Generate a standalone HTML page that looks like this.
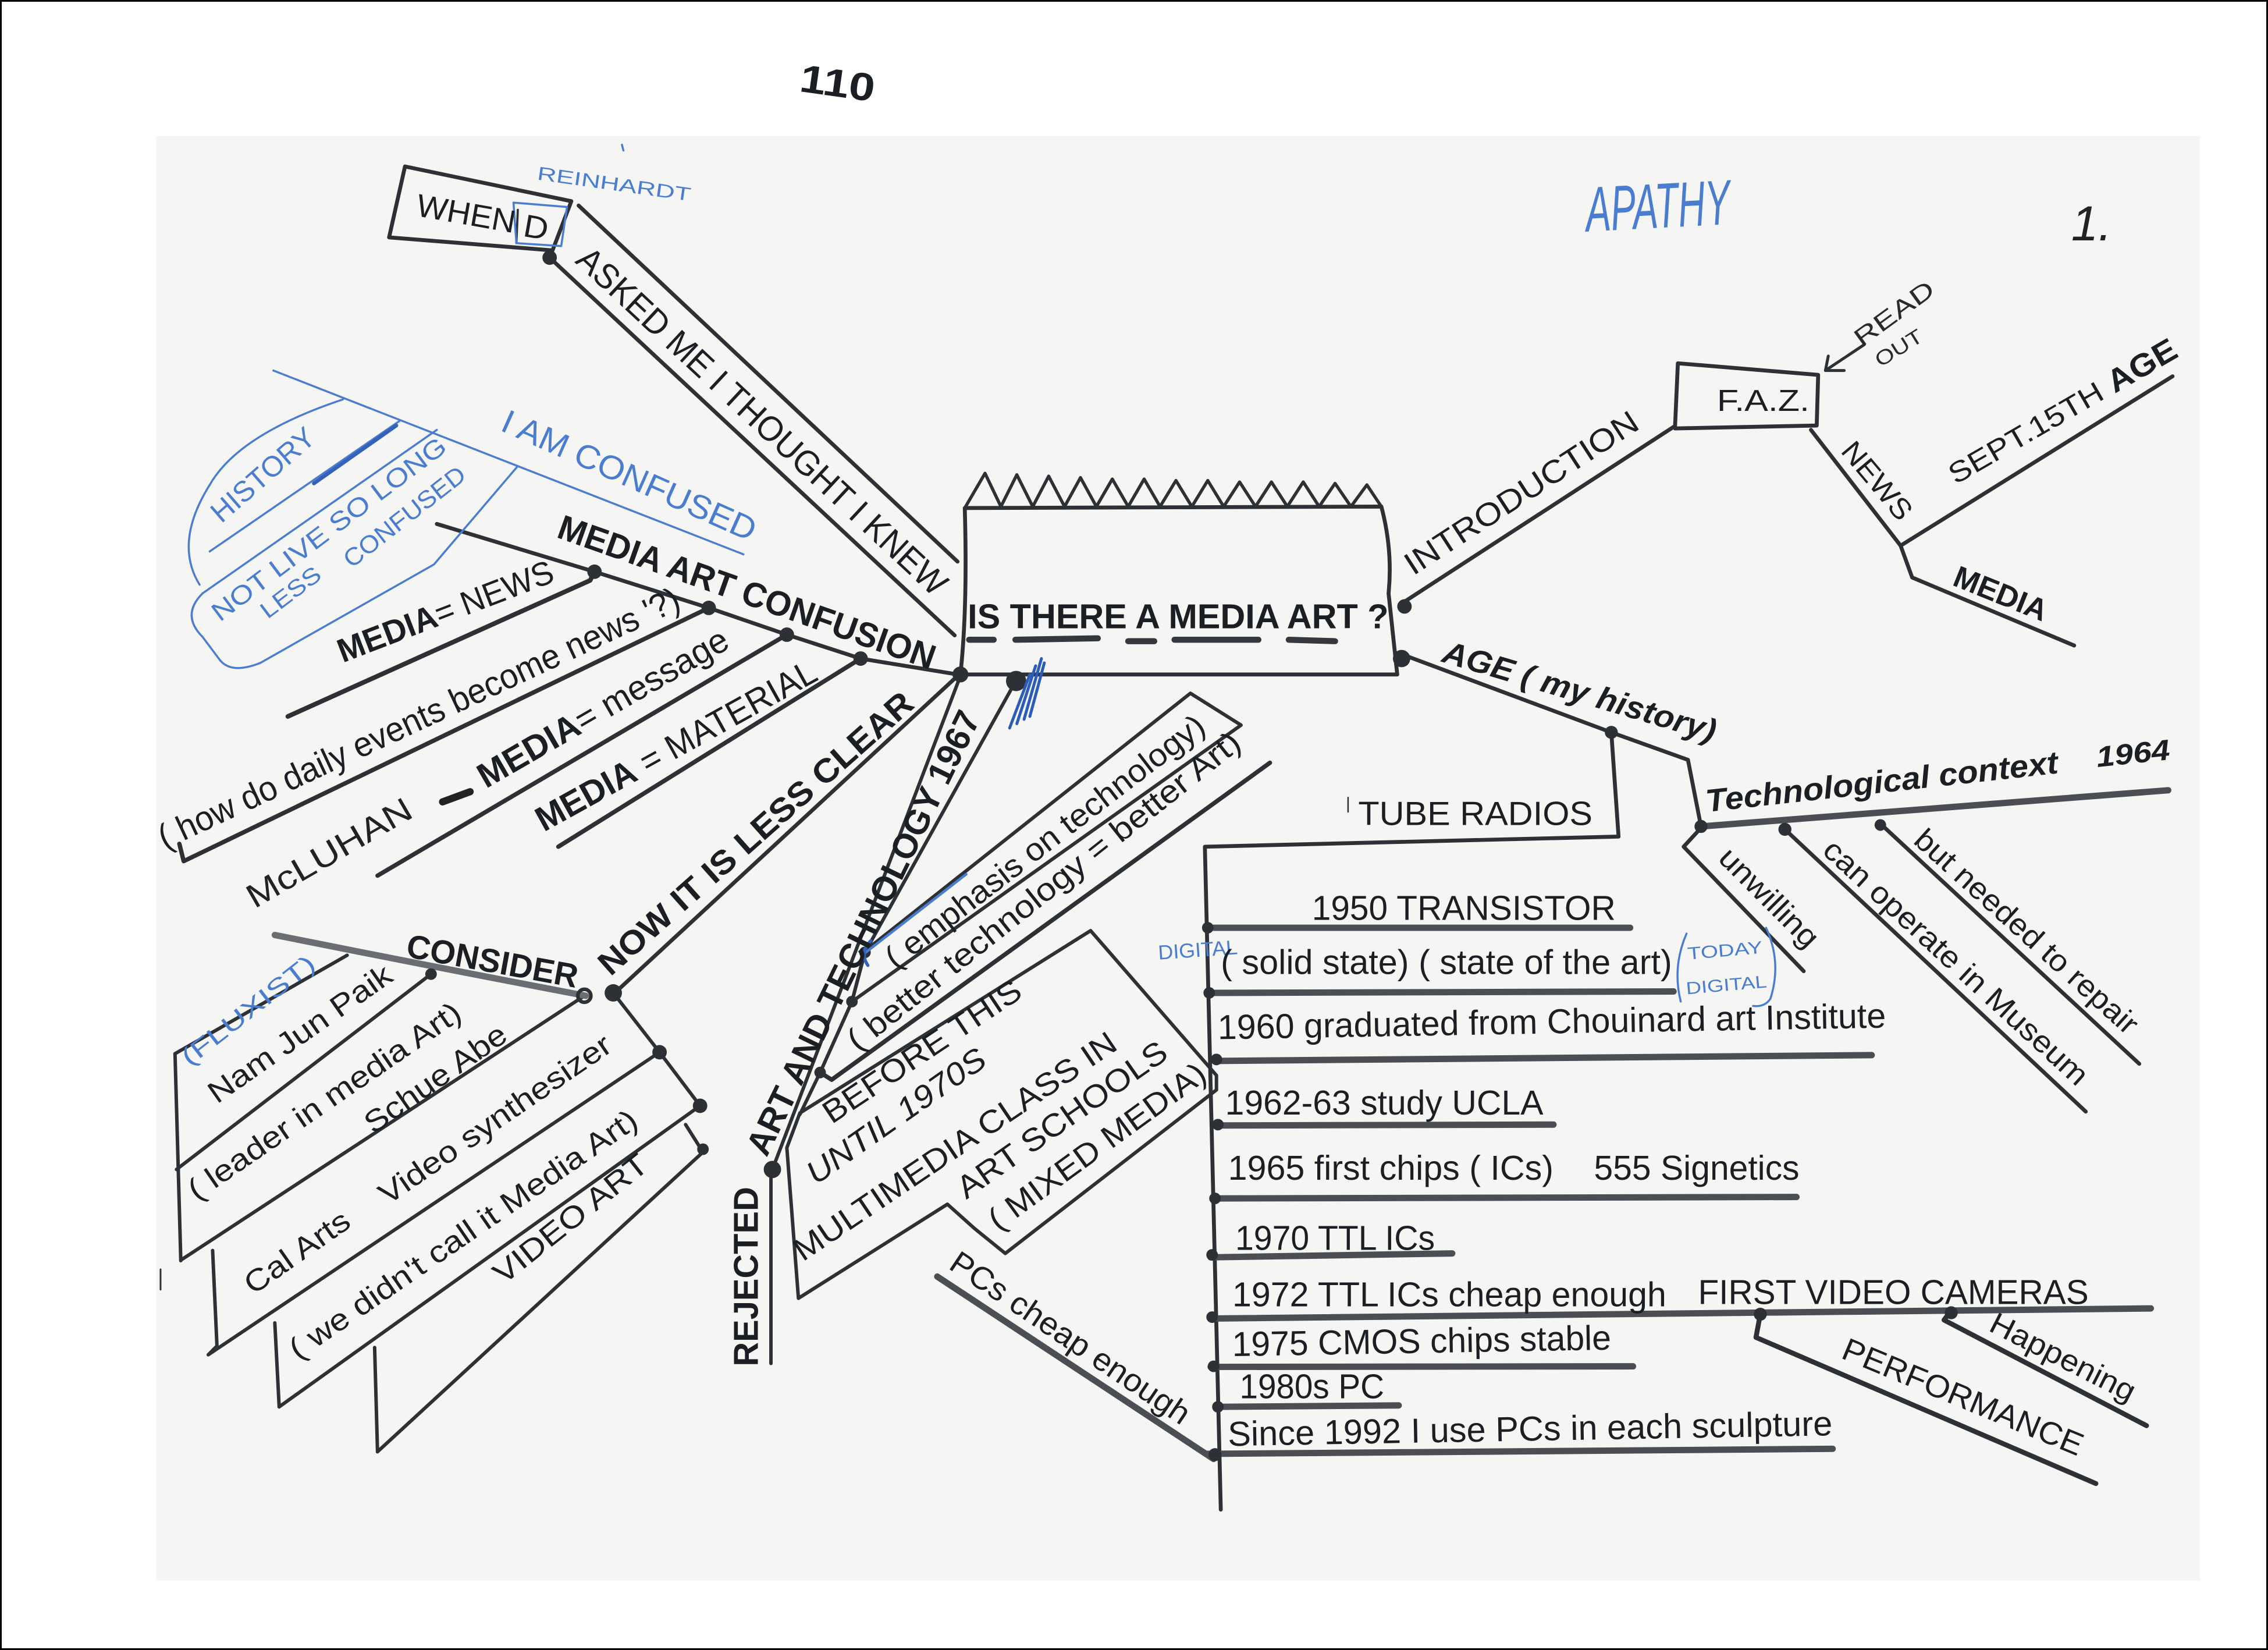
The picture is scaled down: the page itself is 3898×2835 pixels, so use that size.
<!DOCTYPE html>
<html><head><meta charset="utf-8"><style>html,body{margin:0;padding:0;background:#fff}svg{display:block}</style></head><body>
<svg xmlns="http://www.w3.org/2000/svg" width="3898" height="2835" viewBox="0 0 1568 1140" preserveAspectRatio="none">
<rect width="1568" height="1140" fill="#fff"/>
<rect x="108" y="94" width="1413" height="998" fill="#f5f5f3"/>
<rect x="0.6" y="0.6" width="1566.8" height="1138.8" fill="none" stroke="#000" stroke-width="1.2"/>

<g font-family="'Liberation Sans', Arial, sans-serif" fill="#1b1e23">
<text transform="translate(552 63) rotate(8)" font-size="27" font-weight="bold" textLength="52" lengthAdjust="spacingAndGlyphs">110</text>
</g>

<!-- ink lines -->
<g fill="none" stroke="#2d3136" stroke-width="2.7" stroke-linecap="round" stroke-linejoin="round">
<polygon points="280,115 395,139 382,173 269,164"/>
<line x1="358" y1="145" x2="357" y2="168" stroke-width="1.5"/>
<line x1="400" y1="142" x2="662" y2="388"/>
<line x1="380" y1="178" x2="660" y2="439"/>
<path d="M667,351 L955,350 Q963,380 960,410 L966,466 L664,466 Q669,420 667,351 Z"/>
<path d="M667,351 L681,327 L692,350 L703,328 L714,350 L725,329 L736,350 L747,330 L758,350 L769,331 L780,350 L791,331 L802,350 L813,332 L824,350 L835,332 L846,350 L857,333 L868,350 L879,333 L890,350 L901,333 L912,350 L923,334 L934,350 L945,335 L955,350" stroke-width="2.2"/>
<line x1="969" y1="417" x2="1157" y2="295"/>
<polygon points="1160,251 1257,259 1256,294 1158,296"/>
<path d="M1289,238 L1262,256 M1264,246 L1262,256 L1275,256" stroke-width="2"/>
<path d="M1252,297 L1314,377 L1502,260"/>
<path d="M1314,377 L1322,399 L1434,446"/>
<path d="M969,452 L1114,506 L1167,525 L1176,571"/>
<path d="M1114,506 L1119,578 L833,585 L844,1043"/>
<line x1="932" y1="551" x2="932" y2="561" stroke-width="1"/>
<path d="M1176,572 L1164,585 L1247,671"/>
<line x1="1234" y1="573" x2="1442" y2="768"/>
<line x1="1301" y1="570" x2="1479" y2="735"/>
<path d="M302,362 L411,395 L490,420 L544,438.5 L595,455 L662,466"/>
<path d="M411,395 L408,401 L199,495" stroke-width="3.2"/>
<path d="M490,420 L127,595 L124,583" stroke-width="3"/>
<line x1="544" y1="438.5" x2="261" y2="605" stroke-width="3"/>
<line x1="595" y1="455" x2="386" y2="585" stroke-width="3"/>
<line x1="424" y1="687" x2="662" y2="467"/>
<g stroke-width="2.4">
<line x1="240" y1="660" x2="121" y2="728"/>
<line x1="298" y1="673" x2="122" y2="808"/>
<line x1="121" y1="728" x2="125" y2="871"/>
<line x1="404" y1="688" x2="126" y2="870"/>
<path d="M147,864 L150,930 L144,936"/>
<line x1="456" y1="727" x2="144" y2="936"/>
<line x1="190" y1="914" x2="193" y2="972"/>
<line x1="484" y1="764" x2="193" y2="972"/>
<line x1="259" y1="931" x2="261" y2="1003"/>
<line x1="486" y1="796" x2="261" y2="1003"/>
<path d="M424,686 L456,727 L484,764"/>
<line x1="474" y1="777" x2="486" y2="796"/>
<line x1="111" y1="877" x2="111" y2="891" stroke-width="1.2"/>
</g>
<line x1="664" y1="467" x2="534" y2="808" stroke-width="2.4"/>
<path d="M702,471 L598,658 L589,692 L567,741 L553,770" stroke-width="2.4"/>
<line x1="533" y1="812" x2="533" y2="942" stroke-width="2.4"/>
<polygon points="598,657 823,479 858,501 589,692" stroke-width="2.4"/>
<path d="M878,527 L575,746 L567,741" stroke-width="3"/>
<path d="M553,769 L754,643 L841,743 L841,753 L695,866 L674,849 L655,832 L552,897 L544,793 L553,769" stroke-width="2.4"/>
<path d="M1217,908 L1214,924 L1449,1025" stroke-width="3.4"/>
<path d="M1347,908 L1344,912 L1484,985" stroke-width="3.4"/>
</g>

<g fill="none" stroke="#4b4e53" stroke-width="4.4" stroke-linecap="round">
<line x1="834" y1="641" x2="1127" y2="641"/>
<line x1="837" y1="686" x2="1157" y2="685"/>
<line x1="842" y1="733" x2="1294" y2="729"/>
<line x1="842" y1="777.6" x2="1074" y2="777"/>
<line x1="839" y1="828" x2="1242" y2="827"/>
<line x1="837" y1="868.7" x2="1004" y2="866"/>
<line x1="837" y1="911" x2="1487" y2="904"/>
<line x1="837" y1="944.4" x2="1129" y2="944"/>
<line x1="842" y1="972" x2="967" y2="971"/>
<line x1="834" y1="1004.5" x2="1267" y2="1001"/>
<line x1="1176" y1="571" x2="1499" y2="546"/>
<line x1="648" y1="882" x2="839" y2="1008"/>
<path d="M190,646 Q300,668 405,688" stroke="#6a6d71"/>
</g>

<g stroke="#34373c" stroke-width="4.2" stroke-linecap="round">
<line x1="670" y1="442" x2="687" y2="442"/>
<line x1="702" y1="442" x2="759" y2="441"/>
<line x1="780" y1="443" x2="798" y2="443"/>
<line x1="812" y1="442" x2="870" y2="442"/>
<line x1="891" y1="442" x2="923" y2="443"/>
</g>

<g fill="#2d3136">
<circle cx="380" cy="178" r="5"/>
<circle cx="664" cy="466" r="5.5"/>
<circle cx="702.5" cy="470.5" r="7"/>
<circle cx="971" cy="419" r="5"/>
<circle cx="969" cy="455" r="6"/>
<circle cx="1114" cy="506" r="4.5"/>
<circle cx="1176" cy="571" r="4.5"/>
<circle cx="1234" cy="573" r="4.5"/>
<circle cx="1300" cy="570" r="4"/>
<circle cx="411" cy="395" r="5"/>
<circle cx="490" cy="420" r="5"/>
<circle cx="544" cy="438.5" r="5"/>
<circle cx="595" cy="455" r="5"/>
<circle cx="298" cy="673" r="4"/>
<circle cx="404" cy="688" r="4.5" fill="none" stroke="#2d3136" stroke-width="2.5"/>
<circle cx="424" cy="686" r="6"/>
<circle cx="456" cy="727" r="5"/>
<circle cx="484" cy="764" r="5"/>
<circle cx="486" cy="794" r="4"/>
<circle cx="534" cy="808" r="6"/>
<circle cx="598" cy="658" r="4"/>
<circle cx="589" cy="692" r="4"/>
<circle cx="567" cy="741" r="4"/>
<circle cx="835" cy="641" r="4"/>
<circle cx="836" cy="686" r="4"/>
<circle cx="841" cy="732" r="4"/>
<circle cx="842" cy="777" r="4"/>
<circle cx="840" cy="828" r="4"/>
<circle cx="838" cy="867" r="4"/>
<circle cx="838" cy="910" r="4"/>
<circle cx="839" cy="944" r="4"/>
<circle cx="842" cy="972" r="4"/>
<circle cx="840" cy="1005" r="4.5"/>
<circle cx="1217" cy="908" r="4.5"/>
<circle cx="1349" cy="907" r="4.5"/>
</g>

<g fill="none" stroke="#4a7dd0" stroke-width="1.4" stroke-linecap="round" stroke-linejoin="round">
<polygon points="355,140 392,143 388,170 357,168"/>
<line x1="430" y1="100" x2="431" y2="104"/>
<line x1="189" y1="256" x2="514" y2="383"/>
<path d="M237,276 Q165,300 145,335 Q120,375 138,404"/>
<path d="M302,297 L140,410 Q125,425 140,440 L152,456 Q160,466 180,458 L300,390 L358,322"/>
<line x1="145" y1="381" x2="276" y2="291"/>
<line x1="217" y1="334" x2="274" y2="294" stroke="#3362b8" stroke-width="2.6"/>
<line x1="596" y1="660" x2="668" y2="604" stroke-width="1.8"/>
<path d="M602,650 Q594,658 600,667" stroke="#3362b8" stroke-width="2.2"/>
<path d="M698,503 L712,466 M703,500 L716,460 M708,497 L720,455 M712,495 L722,458" stroke="#2d5bb8" stroke-width="2"/>
<path d="M1166,645 Q1156,668 1162,692"/>
<path d="M1221,641 Q1232,665 1224,690 Q1220,696 1212,695"/>
</g>

<g font-family="'Liberation Sans', Arial, sans-serif" fill="#4a7dd0">
<text transform="translate(371 124) rotate(8)" font-size="13" textLength="107" lengthAdjust="spacingAndGlyphs">REINHARDT</text>
<text transform="translate(1097 160) rotate(-3)" font-size="44" font-style="italic" textLength="100" lengthAdjust="spacingAndGlyphs">APATHY</text>
<text transform="translate(345 297) rotate(24)" font-size="23" textLength="190" lengthAdjust="spacingAndGlyphs">I AM CONFUSED</text>
<text transform="translate(153 362) rotate(-41)" font-size="20" textLength="88" lengthAdjust="spacingAndGlyphs">HISTORY</text>
<text transform="translate(152 430) rotate(-37)" font-size="18" textLength="198" lengthAdjust="spacingAndGlyphs">NOT LIVE SO LONG</text>
<text transform="translate(185 428) rotate(-37)" font-size="16" textLength="48" lengthAdjust="spacingAndGlyphs">LESS</text>
<text transform="translate(243 393) rotate(-38)" font-size="17" textLength="102" lengthAdjust="spacingAndGlyphs">CONFUSED</text>
<text transform="translate(131 737) rotate(-38)" font-size="17" textLength="112" lengthAdjust="spacingAndGlyphs">(FLUXIST)</text>
<text transform="translate(801 663) rotate(-4)" font-size="14" textLength="55" lengthAdjust="spacingAndGlyphs">DIGITAL</text>
<text transform="translate(1167 663) rotate(-5)" font-size="12" textLength="52" lengthAdjust="spacingAndGlyphs">TODAY</text>
<text transform="translate(1166 687) rotate(-5)" font-size="12" textLength="56" lengthAdjust="spacingAndGlyphs">DIGITAL</text>
</g>

<g font-family="'Liberation Sans', Arial, sans-serif" fill="#1b1e23">
<text transform="translate(287 149) rotate(10)" font-size="22" textLength="69" lengthAdjust="spacingAndGlyphs">WHEN</text>
<text transform="translate(361 163) rotate(10)" font-size="22" textLength="17" lengthAdjust="spacingAndGlyphs">D</text>
<text transform="translate(397 181) rotate(43)" font-size="24" textLength="340" lengthAdjust="spacingAndGlyphs">ASKED ME I THOUGHT I KNEW</text>

<text x="669" y="434" font-size="24" font-weight="bold" textLength="291" lengthAdjust="spacingAndGlyphs">IS THERE A MEDIA ART ?</text>

<text transform="translate(977 398) rotate(-33)" font-size="22" textLength="188" lengthAdjust="spacingAndGlyphs">INTRODUCTION</text>
<text x="1187" y="284" font-size="21" textLength="64" lengthAdjust="spacingAndGlyphs">F.A.Z.</text>
<text transform="translate(1287 240) rotate(-36)" font-size="17" textLength="64" lengthAdjust="spacingAndGlyphs" fill="#2a2a2a">READ</text>
<text transform="translate(1300 254) rotate(-32)" font-size="14" textLength="36" lengthAdjust="spacingAndGlyphs" fill="#2a2a2a">OUT</text>
<text transform="translate(1272 312) rotate(50)" font-size="20" textLength="64" lengthAdjust="spacingAndGlyphs">NEWS</text>
<text transform="translate(1352 335) rotate(-30)" font-size="20" textLength="120" lengthAdjust="spacingAndGlyphs">SEPT.15TH</text>
<text transform="translate(1462 272) rotate(-30)" font-size="22" font-weight="bold" textLength="52" lengthAdjust="spacingAndGlyphs">AGE</text>
<text transform="translate(1349 404) rotate(22)" font-size="21" font-weight="bold" textLength="68" lengthAdjust="spacingAndGlyphs">MEDIA</text>
<text x="1432" y="166" font-size="34" font-style="italic" textLength="28" lengthAdjust="spacingAndGlyphs" fill="#222">1.</text>

<text transform="translate(996 457) rotate(16.5)" font-size="22" font-weight="bold" font-style="italic" textLength="196" lengthAdjust="spacingAndGlyphs">AGE ( my history)</text>
<text x="939" y="570" font-size="23" textLength="162" lengthAdjust="spacingAndGlyphs">TUBE RADIOS</text>
<text transform="translate(1180 561) rotate(-6.3)" font-size="22" font-weight="bold" font-style="italic" textLength="245" lengthAdjust="spacingAndGlyphs">Technological context</text>
<text transform="translate(1450 530) rotate(-6)" font-size="20" font-weight="bold" font-style="italic" textLength="51" lengthAdjust="spacingAndGlyphs">1964</text>
<text transform="translate(1187 594) rotate(45)" font-size="21" textLength="88" lengthAdjust="spacingAndGlyphs">unwilling</text>
<text transform="translate(1259 589) rotate(42.5)" font-size="21" textLength="240" lengthAdjust="spacingAndGlyphs">can operate in Museum</text>
<text transform="translate(1322 582) rotate(42)" font-size="21" textLength="200" lengthAdjust="spacingAndGlyphs">but needed to repair</text>

<text x="907" y="635.5" font-size="24" textLength="210" lengthAdjust="spacingAndGlyphs">1950 TRANSISTOR</text>
<text x="844" y="673" font-size="24" textLength="312" lengthAdjust="spacingAndGlyphs">( solid state) ( state of the art)</text>
<text transform="translate(842 718) rotate(-1)" font-size="24" textLength="462" lengthAdjust="spacingAndGlyphs">1960 graduated from Chouinard art Institute</text>
<text x="847" y="770" font-size="24" textLength="220" lengthAdjust="spacingAndGlyphs">1962-63 study UCLA</text>
<text x="849" y="815" font-size="24" textLength="225" lengthAdjust="spacingAndGlyphs">1965 first chips ( ICs)</text>
<text x="1102" y="815" font-size="24" textLength="142" lengthAdjust="spacingAndGlyphs">555 Signetics</text>
<text x="854" y="863.5" font-size="24" textLength="138" lengthAdjust="spacingAndGlyphs">1970 TTL ICs</text>
<text x="852" y="902.5" font-size="24" textLength="300" lengthAdjust="spacingAndGlyphs">1972 TTL ICs cheap enough</text>
<text x="1174" y="901" font-size="24" textLength="270" lengthAdjust="spacingAndGlyphs">FIRST VIDEO CAMERAS</text>
<text transform="translate(852 937) rotate(-1)" font-size="24" textLength="262" lengthAdjust="spacingAndGlyphs">1975 CMOS chips stable</text>
<text x="857" y="966" font-size="24" textLength="100" lengthAdjust="spacingAndGlyphs">1980s PC</text>
<text transform="translate(849 999) rotate(-1)" font-size="24" textLength="418" lengthAdjust="spacingAndGlyphs">Since 1992 I use PCs in each sculpture</text>
<text transform="translate(1272 938) rotate(22.5)" font-size="22" textLength="178" lengthAdjust="spacingAndGlyphs">PERFORMANCE</text>
<text transform="translate(1374 919) rotate(27)" font-size="21" textLength="110" lengthAdjust="spacingAndGlyphs">Happening</text>
<text transform="translate(655 876) rotate(34)" font-size="22" textLength="195" lengthAdjust="spacingAndGlyphs">PCs cheap enough</text>

<text transform="translate(384 371) rotate(19.5)" font-size="24" font-weight="bold" textLength="275" lengthAdjust="spacingAndGlyphs">MEDIA ART CONFUSION</text>
<text transform="translate(237 458) rotate(-21)" font-size="23" textLength="158" lengthAdjust="spacingAndGlyphs"><tspan font-weight="bold">MEDIA</tspan>= NEWS</text>
<text transform="translate(114 587) rotate(-25)" font-size="24" textLength="395" lengthAdjust="spacingAndGlyphs">( how do daily events become news '?)</text>
<text transform="translate(176 628) rotate(-30)" font-size="23" textLength="128" lengthAdjust="spacingAndGlyphs" fill="#222">McLUHAN</text>
<line x1="306" y1="554" x2="325" y2="547" stroke="#222" stroke-width="5" stroke-linecap="round"/>
<text transform="translate(336 545) rotate(-30)" font-size="24" textLength="196" lengthAdjust="spacingAndGlyphs"><tspan font-weight="bold">MEDIA</tspan>= message</text>
<text transform="translate(376 575) rotate(-29)" font-size="24" textLength="218" lengthAdjust="spacingAndGlyphs"><tspan font-weight="bold">MEDIA</tspan> = MATERIAL</text>
<text transform="translate(422 675) rotate(-41.5)" font-size="23" font-weight="bold" textLength="282" lengthAdjust="spacingAndGlyphs">NOW IT IS LESS CLEAR</text>
<text transform="translate(280 661) rotate(10.3)" font-size="23" font-weight="bold" textLength="120" lengthAdjust="spacingAndGlyphs">CONSIDER</text>

<text transform="translate(150 763) rotate(-35)" font-size="21" textLength="150" lengthAdjust="spacingAndGlyphs">Nam Jun Paik</text>
<text transform="translate(136 830) rotate(-34.5)" font-size="21" textLength="224" lengthAdjust="spacingAndGlyphs">( leader in media Art)</text>
<text transform="translate(258 784) rotate(-35)" font-size="21" textLength="115" lengthAdjust="spacingAndGlyphs">Schue Abe</text>
<text transform="translate(175 895) rotate(-35)" font-size="21" textLength="84" lengthAdjust="spacingAndGlyphs">Cal Arts</text>
<text transform="translate(268 833) rotate(-34.5)" font-size="21" textLength="190" lengthAdjust="spacingAndGlyphs">Video synthesizer</text>
<text transform="translate(206 940) rotate(-34.5)" font-size="21" textLength="287" lengthAdjust="spacingAndGlyphs">( we didn't call it Media Art)</text>
<text transform="translate(348 888) rotate(-38.5)" font-size="21" textLength="130" lengthAdjust="spacingAndGlyphs">VIDEO ART</text>

<text transform="translate(524 944) rotate(-90)" font-size="24" font-weight="bold" textLength="124" lengthAdjust="spacingAndGlyphs">REJECTED</text>
<text transform="translate(530 800) rotate(-64)" font-size="24" font-weight="bold" textLength="338" lengthAdjust="spacingAndGlyphs">ART AND TECHNOLOGY 1967</text>
<text transform="translate(619 670) rotate(-37.5)" font-size="22" textLength="272" lengthAdjust="spacingAndGlyphs">( emphasis on technology)</text>
<text transform="translate(593 727) rotate(-38.4)" font-size="22" textLength="340" lengthAdjust="spacingAndGlyphs">( better technology = better Art)</text>
<text transform="translate(575 777) rotate(-33.7)" font-size="22" textLength="160" lengthAdjust="spacingAndGlyphs">BEFORE THIS</text>
<text transform="translate(564 819) rotate(-35)" font-size="22" font-style="italic" textLength="146" lengthAdjust="spacingAndGlyphs">UNTIL 1970S</text>
<text transform="translate(555 872) rotate(-34)" font-size="22" textLength="264" lengthAdjust="spacingAndGlyphs">MULTIMEDIA CLASS IN</text>
<text transform="translate(668 829) rotate(-35)" font-size="22" textLength="172" lengthAdjust="spacingAndGlyphs">ART SCHOOLS</text>
<text transform="translate(690 851) rotate(-36)" font-size="22" textLength="180" lengthAdjust="spacingAndGlyphs">( MIXED MEDIA)</text>
</g>
</svg>
</body></html>
